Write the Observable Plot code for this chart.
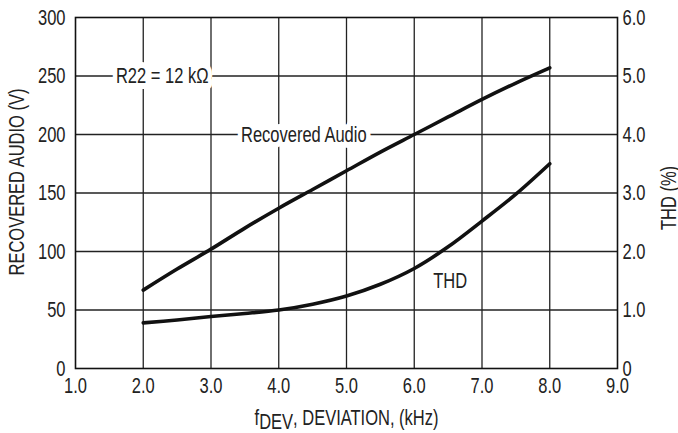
<!DOCTYPE html>
<html>
<head>
<meta charset="utf-8">
<script src="https://cdn.jsdelivr.net/npm/d3@7"></script>
<script src="https://cdn.jsdelivr.net/npm/@observablehq/plot@0.6"></script>
<style>
  html, body { margin: 0; padding: 0; background: #fff; }
  #chart svg { font-family: "Liberation Sans", Arial, sans-serif; font-size: 22px; }
</style>
</head>
<body>
<div id="chart"></div>
<script>
// Data
const deviationKHz = [2.0, 2.5, 3.0, 3.5, 4.0, 4.5, 5.0, 5.5, 6.0, 6.5, 7.0, 7.5, 8.0];
const recoveredAudioV = [67, 85, 102, 120, 137, 153, 169, 185, 200, 215, 230, 244, 257];
const thdPercent = [0.78, 0.83, 0.89, 0.94, 1.0, 1.1, 1.24, 1.44, 1.71, 2.08, 2.52, 2.98, 3.5];

const xTicks = [1, 2, 3, 4, 5, 6, 7, 8, 9];
const xGrid = [2, 3, 4, 5, 6, 7, 8];
const yTicks = [0, 50, 100, 150, 200, 250, 300];
const yGrid = [50, 100, 150, 200, 250];
const thdTicks = [0, 1, 2, 3, 4, 5, 6];

const leftTitle = "RECOVERED AUDIO (V)";
const rightTitle = "THD (%)";
const xTitle = "fDEV, DEVIATION, (kHz)";
const annotations = [
  {x: 2.28, y: 250, text: "R22 = 12 kΩ"},
  {x: 4.37, y: 200, text: "Recovered Audio"},
  {x: 6.53, y: 75, text: "THD"}
];

const thdScale = 300 / 6; // THD % → left-axis units
const audio = deviationKHz.map((x, i) => ({x, y: recoveredAudioV[i]}));
const thd = deviationKHz.map((x, i) => ({x, y: thdPercent[i] * thdScale}));

const FS = 22;
const chart = Plot.plot({
  width: 678,
  height: 433,
  marginLeft: 75,
  marginRight: 61,
  marginTop: 17,
  marginBottom: 65,
  x: {domain: [1, 9]},
  y: {domain: [0, 300]},
  marks: [
    Plot.ruleX(xGrid, {y1: 0, y2: 300, stroke: "#222", strokeWidth: 1.3}),
    Plot.ruleY(yGrid, {x1: 1, x2: 9, stroke: "#222", strokeWidth: 1.3}),
    Plot.frame({stroke: "#111", strokeWidth: 1.6}),
    Plot.line(audio, {x: "x", y: "y", curve: "catmull-rom", stroke: "#111", strokeWidth: 3.6}),
    Plot.line(thd, {x: "x", y: "y", curve: "catmull-rom", stroke: "#111", strokeWidth: 3.6}),
    Plot.text(annotations, {x: "x", y: "y", text: "text", fill: "#222", stroke: "white", strokeWidth: 12, strokeLinejoin: "round", fontSize: FS}),
    Plot.axisX(xTicks, {tickSize: 0, tickPadding: 9, tickFormat: d => d.toFixed(1), label: null, fill: "#222", fontSize: FS}),
    Plot.axisY(yTicks, {anchor: "left", tickSize: 0, tickPadding: 10, tickFormat: d => String(d), label: null, fill: "#222", fontSize: FS}),
    Plot.axisY(thdTicks.map(t => t * thdScale), {anchor: "right", tickSize: 0, tickPadding: 5, tickFormat: d => d === 0 ? "0" : (d / thdScale).toFixed(1), label: null, fill: "#222", fontSize: FS}),
    Plot.text([leftTitle], {frameAnchor: "left", textAnchor: "middle", lineAnchor: "middle", dx: -59, dy: -11, rotate: -90, fill: "#222", fontSize: FS}),
    Plot.text([rightTitle], {frameAnchor: "right", textAnchor: "middle", lineAnchor: "middle", dx: 51, dy: 5, rotate: -90, fill: "#222", fontSize: FS}),
    Plot.text([xTitle], {frameAnchor: "bottom", textAnchor: "middle", lineAnchor: "middle", dy: 49, fill: "#222", fontSize: FS})
  ]
});

// Render the "DEV" part of the x title as a subscript
d3.select(chart).selectAll("text").each(function () {
  if (this.textContent === xTitle) {
    const t = d3.select(this);
    t.text(null);
    t.append("tspan").text("f");
    t.append("tspan").attr("dy", "0.22em").text("DEV");
    t.append("tspan").attr("dy", "-0.22em").text(", DEVIATION, (kHz)");
  }
});

// Condense all text horizontally (the reference uses a condensed sans face)
d3.select(chart).selectAll("text").each(function () {
  const t = d3.select(this);
  const tr = t.attr("transform") || "";
  t.attr("transform", `${tr} scale(0.75,1)`);
});

document.getElementById("chart").appendChild(chart);
</script>
</body>
</html>
